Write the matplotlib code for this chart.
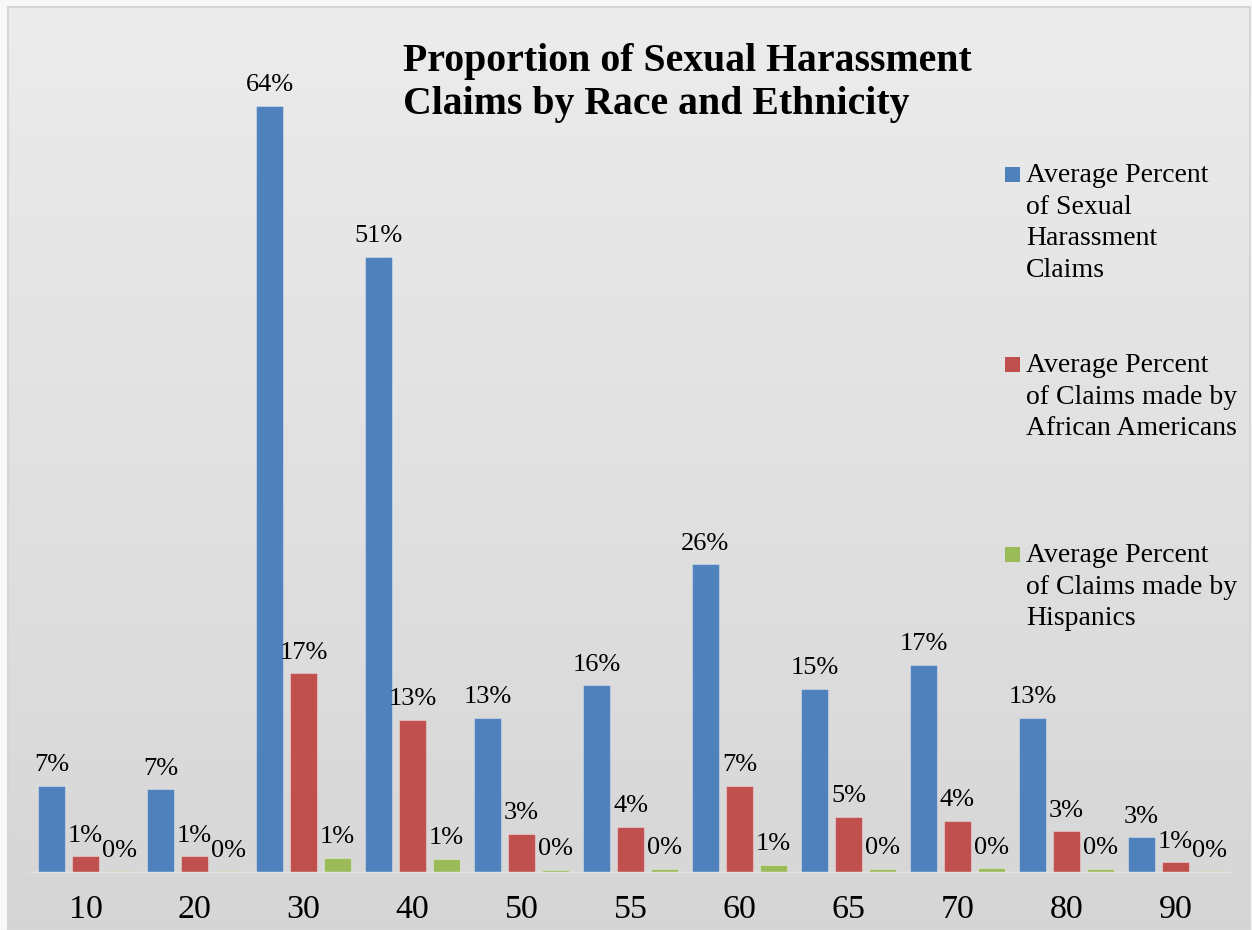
import numpy as np
import matplotlib
matplotlib.use("Agg")
import matplotlib.pyplot as plt
from matplotlib.patches import Rectangle

# data (percent)
groups = ["10", "20", "30", "40", "50", "55", "60", "65", "70", "80", "90"]
harassment = [7.2, 6.9, 64.0, 51.4, 12.9, 15.6, 25.7, 15.3, 17.3, 12.9, 2.9]
african_am = [1.3, 1.3, 16.6, 12.7, 3.2, 3.8, 7.2, 4.6, 4.3, 3.4, 0.8]
hispanic = [0.05, 0.05, 1.2, 1.1, 0.2, 0.25, 0.6, 0.25, 0.3, 0.25, 0.05]

series_names = [["Average Percent", "of Sexual", "Harassment", "Claims"],
                ["Average Percent", "of Claims made by", "African Americans"],
                ["Average Percent", "of Claims made by", "Hispanics"]]
colors = ["#4F81BD", "#C0504D", "#9BBB59"]
title_lines = ["Proportion of Sexual Harassment", "Claims by Race and Ethnicity"]

plt.rcParams['font.family'] = ['Liberation Serif', 'DejaVu Serif']

W, H = 1252, 930
fig = plt.figure(figsize=(W / 100, H / 100), dpi=100)
fig.patch.set_facecolor("#f8f8f8")

# gradient background with thin border
bg = fig.add_axes([8 / W, 0, (1250 - 8) / W, (H - 7) / H])
grad = np.linspace(0.922, 0.835, 256).reshape(-1, 1)
bg.imshow(grad, aspect="auto", cmap="gray", vmin=0, vmax=1, extent=[0, 1, 0, 1])
bg.set_xticks([])
bg.set_yticks([])
for s in bg.spines.values():
    s.set_color("#d6d6d6")
    s.set_linewidth(1.5)
bg.set_zorder(0)

ax = fig.add_axes([31 / W, (H - 872) / H, (1230 - 31) / W, (872 - 20) / H])
ax.set_zorder(1)
ax.patch.set_alpha(0)

x = np.arange(len(groups))
width = 0.248
pitch = 0.312
edge = (1, 1, 1, 0.35)
b1 = ax.bar(x - pitch, harassment, width, color=colors[0], edgecolor=edge, linewidth=0.8)
b2 = ax.bar(x, african_am, width, color=colors[1], edgecolor=edge, linewidth=0.8)
b3 = ax.bar(x + pitch, hispanic, width, color=colors[2], edgecolor=edge, linewidth=0.8)

for bars, vals in [(b1, harassment), (b2, african_am), (b3, hispanic)]:
    ax.bar_label(bars, labels=[f"{v:.0f}%" for v in vals], padding=7, fontsize=19)

ax.set_xlim(-0.5, len(groups) - 0.5)
ax.set_ylim(0, (872 - 20) / 11.97)
ax.set_xticks(x)
ax.set_xticklabels(groups, fontsize=24.5)
ax.tick_params(axis="x", length=0, pad=16)
ax.set_yticks([])
for side in ["top", "right", "left"]:
    ax.spines[side].set_visible(False)
ax.spines["bottom"].set_color("#e4e4e4")
ax.spines["bottom"].set_linewidth(1)

# title, one line at a time
for i, line in enumerate(title_lines):
    fig.text(403 / W, 1 - (71 + 43 * i) / H, line, fontsize=28.6, fontweight="bold",
             va="baseline", ha="left")

# legend drawn by hand so the swatch sits on the first line
for i, (lines, c) in enumerate(zip(series_names, colors)):
    base = 182 + 190 * i
    fig.patches.append(Rectangle((1005 / W, 1 - base / H), 15 / W, 15 / H,
                                 transform=fig.transFigure, facecolor=c, edgecolor="none"))
    for j, line in enumerate(lines):
        fig.text(1026 / W, 1 - (base + 31.5 * j) / H, line, fontsize=20,
                 va="baseline", ha="left")

plt.savefig("out.png", dpi=100)
